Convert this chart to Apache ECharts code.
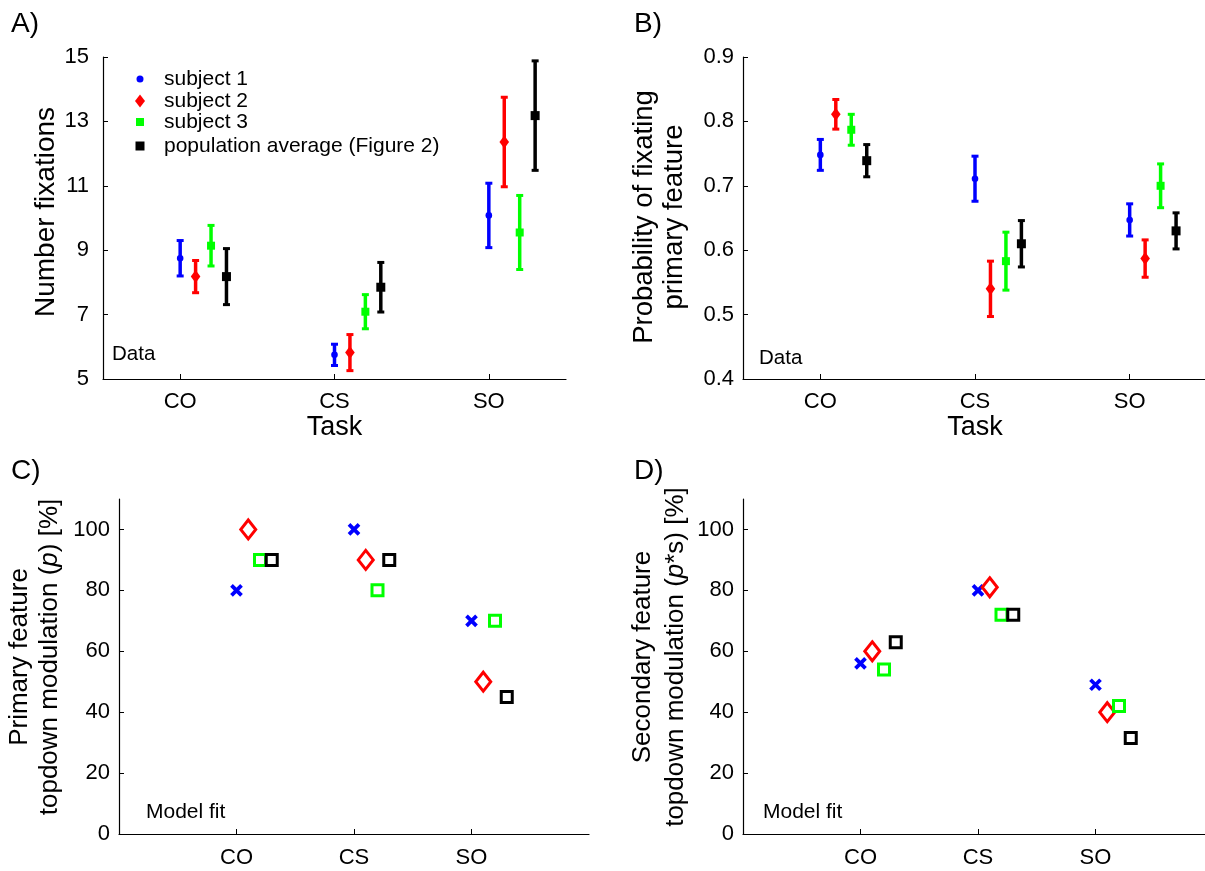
<!DOCTYPE html>
<html><head><meta charset="utf-8">
<script src="https://cdn.jsdelivr.net/npm/echarts@6/dist/echarts.min.js"></script>
<style>html,body{margin:0;padding:0;background:#fff}#c{width:1205px;height:871px}</style>
</head><body><div id="c"></div>
<script>
// ---------- data ----------
const tasks = ['CO', 'CS', 'SO'];
const subjects = ['subject 1', 'subject 2', 'subject 3', 'population average (Figure 2)'];
const colors = ['#0000ff', '#ff0000', '#00ff00', '#000000'];
const offsets = [0, 0.1, 0.2, 0.3];

// Panel A: number of fixations (mean and error half-width) per task
const fixS1 = [8.75, 5.75, 10.08];
const fixS1Err = [0.55, 0.33, 1.00];
const fixS2 = [8.18, 5.82, 12.36];
const fixS2Err = [0.50, 0.56, 1.39];
const fixS3 = [9.14, 7.09, 9.55];
const fixS3Err = [0.63, 0.53, 1.15];
const fixAvg = [8.18, 7.85, 13.18];
const fixAvgErr = [0.87, 0.77, 1.70];

// Panel B: probability of fixating primary feature
const probS1 = [0.748, 0.711, 0.647];
const probS1Err = [0.024, 0.035, 0.025];
const probS2 = [0.811, 0.540, 0.587];
const probS2Err = [0.023, 0.043, 0.029];
const probS3 = [0.787, 0.583, 0.700];
const probS3Err = [0.024, 0.045, 0.034];
const probAvg = [0.739, 0.610, 0.630];
const probAvgErr = [0.025, 0.036, 0.028];

// Panel C: primary feature topdown modulation p [%]
const pS1 = [80, 100, 70];
const pS2 = [100, 90, 50];
const pS3 = [90, 80, 70];
const pAvg = [90, 90, 45];

// Panel D: secondary feature topdown modulation p*s [%]
const psS1 = [56, 80, 49];
const psS2 = [60, 81, 40];
const psS3 = [54, 72, 42];
const psAvg = [63, 72, 31.5];

// tick labels
const yTicksA = [5, 7, 9, 11, 13, 15];
const yTicksB = [0.4, 0.5, 0.6, 0.7, 0.8, 0.9];
const yTicksCD = [0, 20, 40, 60, 80, 100];
const xTicks = [1, 2, 3];

// ---------- styling helpers ----------
const FONT = '"Liberation Sans", Arial, Helvetica, sans-serif';
const AX = '#000';

function xAxisDef(gi, min, max, name, margin) {
  return {
    type: 'value', gridIndex: gi, min: min, max: max,
    axisLine: {show: true, onZero: false, lineStyle: {color: AX, width: 1.2}},
    axisTick: {show: true, inside: true, length: 5, customValues: xTicks, lineStyle: {color: AX, width: 1}},
    axisLabel: {customValues: xTicks, formatter: v => tasks[Math.round(v) - 1] || '',
      color: '#000', fontSize: 22, fontFamily: FONT, margin: margin},
    splitLine: {show: false},
    name: name, nameLocation: 'middle', nameGap: 30,
    nameTextStyle: {color: '#000', fontSize: 27, fontFamily: FONT}
  };
}
function yAxisDef(gi, min, max, ticks, fmt, margin) {
  return {
    type: 'value', gridIndex: gi, min: min, max: max,
    axisLine: {show: true, onZero: false, lineStyle: {color: AX, width: 1.2}},
    axisTick: {show: true, inside: true, length: 5, customValues: ticks, lineStyle: {color: AX, width: 1}},
    axisLabel: {customValues: ticks, formatter: fmt, color: '#000', fontSize: 22, fontFamily: FONT, margin: margin},
    splitLine: {show: false}
  };
}

const markerKinds = ['dot', 'diamond', 'square', 'bigsquare'];
function errSeries(ci, gi, means, errs) {
  return {
    type: 'custom', name: subjects[ci], xAxisIndex: gi, yAxisIndex: gi, silent: true,
    data: means.map((m, i) => [i + 1 + offsets[ci], m, m - errs[i], m + errs[i]]),
    renderItem: function (params, api) {
      const x = api.value(0);
      const p = api.coord([x, api.value(1)]);
      const lo = api.coord([x, api.value(2)]);
      const hi = api.coord([x, api.value(3)]);
      const c = colors[ci];
      const cx = p[0], cy = p[1];
      const ch = [
        {type: 'line', shape: {x1: cx, y1: lo[1], x2: cx, y2: hi[1]}, style: {stroke: c, lineWidth: 3.5}},
        {type: 'line', shape: {x1: cx - 3.5, y1: lo[1], x2: cx + 3.5, y2: lo[1]}, style: {stroke: c, lineWidth: 3}},
        {type: 'line', shape: {x1: cx - 3.5, y1: hi[1], x2: cx + 3.5, y2: hi[1]}, style: {stroke: c, lineWidth: 3}}
      ];
      const k = markerKinds[ci];
      if (k === 'dot') ch.push({type: 'circle', shape: {cx: cx, cy: cy, r: 3.3}, style: {fill: c}});
      else if (k === 'diamond') ch.push({type: 'polygon', shape: {points: [[cx, cy - 6.5], [cx + 4.8, cy], [cx, cy + 6.5], [cx - 4.8, cy]]}, style: {fill: c}});
      else {
        const s = k === 'square' ? 8 : 9;
        ch.push({type: 'rect', shape: {x: cx - s / 2, y: cy - s / 2, width: s, height: s}, style: {fill: c}});
      }
      return {type: 'group', children: ch};
    }
  };
}

const xPath = 'path://M0,0L10,10M10,0L0,10';
const fitSymbols = [xPath, 'diamond', 'rect', 'rect'];
const fitSizes = [[10, 10], [15, 19], 11, 11];
const fitBorders = [3.8, 3, 3, 3];
function fitSeries(ci, gi, vals) {
  return {
    type: 'scatter', name: subjects[ci], xAxisIndex: gi, yAxisIndex: gi, silent: true,
    data: vals.map((v, i) => [i + 1 + offsets[ci], v]),
    symbol: fitSymbols[ci], symbolSize: fitSizes[ci],
    itemStyle: {color: 'rgba(0,0,0,0)', borderColor: colors[ci], borderWidth: fitBorders[ci], opacity: 1}
  };
}

// legend (one small legend per entry, to keep marker sizes distinct)
const legendIcons = ['circle', 'diamond', 'rect', 'rect'];
const legendW = [7, 10, 8, 9];
const legendH = [7, 13, 8, 9];
const legendRows = [79, 101, 122, 146];
const legends = subjects.map((s, i) => ({
  data: [{name: s, icon: legendIcons[i], itemStyle: {color: colors[i], borderWidth: 0}}],
  left: 140 - legendW[i] / 2, top: legendRows[i] - 11,
  itemWidth: legendW[i], itemHeight: legendH[i], padding: 0, selectedMode: false,
  textStyle: {color: '#000', fontSize: 21, fontFamily: FONT, lineHeight: 22,
    padding: [0, 0, 0, 164 - (140 + legendW[i] / 2) - 5]}
}));

function txt(text, x, y, size, opts) {
  return Object.assign({type: 'text', x: x, y: y, silent: true,
    style: {text: text, fontSize: size, fontFamily: FONT, fill: '#000', align: 'left', verticalAlign: 'middle'}}, opts || {});
}
function vtitle(text, x, y, size, lh) {
  return {type: 'text', x: x, y: y, rotation: Math.PI / 2, silent: true,
    style: {text: text, fontSize: size, fontFamily: FONT, fill: '#000', align: 'center', verticalAlign: 'middle',
      lineHeight: lh, rich: {i: {fontStyle: 'italic', fontSize: size, fontFamily: FONT, lineHeight: lh}}}};
}

const option = {
  animation: false,
  backgroundColor: '#fff',
  grid: [
    {left: 103, top: 57, width: 463, height: 322, outerBoundsMode: 'none'},
    {left: 743, top: 57, width: 464, height: 322, outerBoundsMode: 'none'},
    {left: 119, top: 499, width: 470, height: 335, outerBoundsMode: 'none'},
    {left: 743, top: 499, width: 470, height: 335, outerBoundsMode: 'none'}
  ],
  xAxis: [
    xAxisDef(0, 0.5, 3.5, 'Task', 12),
    xAxisDef(1, 0.5, 3.5, 'Task', 12),
    xAxisDef(2, 0, 4, '', 13),
    xAxisDef(3, 0, 4, '', 13)
  ],
  yAxis: [
    yAxisDef(0, 5, 15, yTicksA, v => String(v), 14),
    yAxisDef(1, 0.4, 0.9, yTicksB, v => v.toFixed(1), 9),
    yAxisDef(2, 0, 110, yTicksCD, v => String(v), 9),
    yAxisDef(3, 0, 110, yTicksCD, v => String(v), 9)
  ],
  legend: legends,
  series: [
    errSeries(0, 0, fixS1, fixS1Err), errSeries(1, 0, fixS2, fixS2Err),
    errSeries(2, 0, fixS3, fixS3Err), errSeries(3, 0, fixAvg, fixAvgErr),
    errSeries(0, 1, probS1, probS1Err), errSeries(1, 1, probS2, probS2Err),
    errSeries(2, 1, probS3, probS3Err), errSeries(3, 1, probAvg, probAvgErr),
    fitSeries(0, 2, pS1), fitSeries(1, 2, pS2), fitSeries(2, 2, pS3), fitSeries(3, 2, pAvg),
    fitSeries(0, 3, psS1), fitSeries(1, 3, psS2), fitSeries(2, 3, psS3), fitSeries(3, 3, psAvg)
  ],
  graphic: [
    txt('A)', 11, 24, 28), txt('B)', 634, 24, 28),
    txt('C)', 11, 471, 28), txt('D)', 634, 471, 28),
    txt('Data', 112, 354, 20.5), txt('Data', 759, 358, 20.5),
    txt('Model fit', 146, 812, 21), txt('Model fit', 763, 812, 21),
    vtitle('Number fixations', 46, 212, 28, 30),
    vtitle('Probability of fixating\nprimary feature', 659, 217, 27.5, 30),
    vtitle('Primary feature\ntopdown modulation ({i|p}) [%]', 35, 657, 26, 30),
    vtitle('Secondary feature\ntopdown modulation ({i|p}*s) [%]', 659, 657, 26, 33)
  ]
};

const chart = echarts.init(document.getElementById('c'), null, {renderer: 'canvas'});
chart.setOption(option);
</script>
</body></html>
